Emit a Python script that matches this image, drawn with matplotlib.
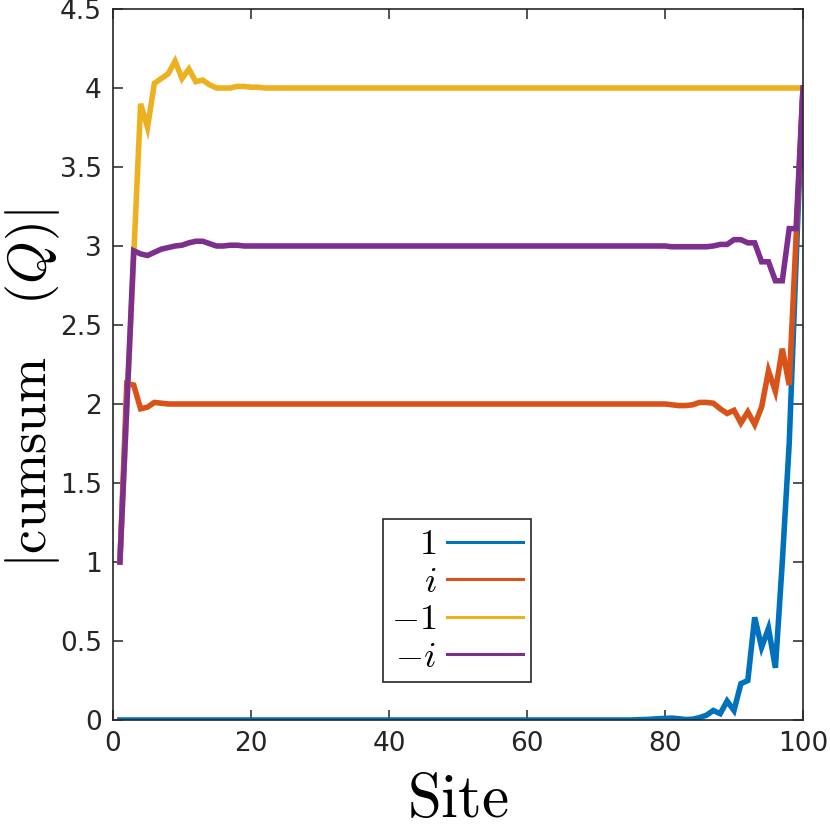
import matplotlib
matplotlib.use("Agg")
import matplotlib.pyplot as plt
from matplotlib.lines import Line2D

plt.rcParams['mathtext.fontset'] = 'cm'
plt.rcParams['font.family'] = ['DejaVu Sans']

sites = list(range(1, 101))

val_1 = ([0.0] * 70 +
         [0.0, 0.0, 0.0, 0.0, 0.0, 0.002, 0.003, 0.005, 0.008, 0.01,
          0.012, 0.008, 0.003, 0.005, 0.015, 0.03, 0.06, 0.04, 0.12, 0.06,
          0.23, 0.25, 0.65, 0.46, 0.58, 0.33, 1.00, 1.75, 2.90, 4.00])

val_i = ([1.00, 2.13, 2.12, 1.97, 1.98, 2.01, 2.005, 2.00, 2.00, 2.00] +
         [2.00] * 70 +
         [1.995, 1.99, 1.99, 1.995, 2.01, 2.01, 2.005, 1.97, 1.94, 1.96,
          1.88, 1.95, 1.87, 1.98, 2.21, 2.08, 2.35, 2.12, 3.06, 4.00])

val_m1 = ([1.00, 1.97, 2.93, 3.90, 3.75, 4.03, 4.06, 4.09, 4.17, 4.06,
           4.12, 4.04, 4.05, 4.02, 4.00, 4.00, 4.00, 4.01, 4.01, 4.005,
           4.005] + [4.00] * 79)

val_mi = ([1.00, 1.99, 2.97, 2.95, 2.94, 2.96, 2.98, 2.99, 3.00, 3.005,
           3.02, 3.03, 3.03, 3.015, 3.00, 3.00, 3.005, 3.005, 3.00, 3.00] +
          [3.00] * 60 +
          [2.995, 2.995, 2.995, 2.995, 2.995, 2.995, 3.00, 3.01, 3.01, 3.04,
           3.04, 3.02, 3.02, 2.90, 2.90, 2.78, 2.78, 3.11, 3.11, 4.00])

labels = ['$1$', '$i$', '$-1$', '$-i$']
colors = ['#0072BD', '#D95319', '#EDB120', '#7E2F8E']
series = [val_1, val_i, val_m1, val_mi]

xticks = [0, 20, 40, 60, 80, 100]
yticks = [0, 0.5, 1, 1.5, 2, 2.5, 3, 3.5, 4, 4.5]
yticklabels = ['0', '0.5', '1', '1.5', '2', '2.5', '3', '3.5', '4', '4.5']

fig = plt.figure(figsize=(8.30, 8.36), dpi=100)
ax_w = (803 - 113)
ax_h = (720 - 9)
ax = fig.add_axes([113/830, 1 - 720/836, ax_w/830, ax_h/836])

for vals, c in zip(series, colors):
    ax.plot(sites, vals, color=c, lw=4.0, solid_joinstyle='miter')

ax.set_xlim(0, 100)
ax.set_ylim(0, 4.5)
ax.set_xticks(xticks)
ax.set_yticks(yticks)
ax.set_yticklabels(yticklabels)
ax.tick_params(direction='in', length=7, width=1.1, top=True, right=True,
               labelsize=19, colors='#262626', pad=8)
for sp in ax.spines.values():
    sp.set_linewidth(1.2)
    sp.set_color('#262626')

ax.set_xlabel('$\\mathrm{Site}$', fontsize=44, labelpad=10)
ax.set_ylabel('$|\\mathrm{cumsum}\\;\\;\\;\\;(Q)|$', fontsize=39)
ax.yaxis.set_label_coords((62 - 113) / ax_w, (720 - 388) / ax_h)

handles = [Line2D([0], [0], color=c, lw=2.2) for c in colors]
leg = ax.legend(handles, labels, loc='lower left',
                bbox_to_anchor=((383 - 113) / ax_w, (720 - 682) / ax_h),
                fontsize=26, markerfirst=False, handlelength=2.1, fancybox=False,
                framealpha=1, edgecolor='#262626', borderpad=0.22, labelspacing=0.1,
                handletextpad=0.3, borderaxespad=0)
leg.get_frame().set_linewidth(1.2)
for t in leg.get_texts():
    t.set_ha('right')

fig.savefig('out.png', dpi=100)
